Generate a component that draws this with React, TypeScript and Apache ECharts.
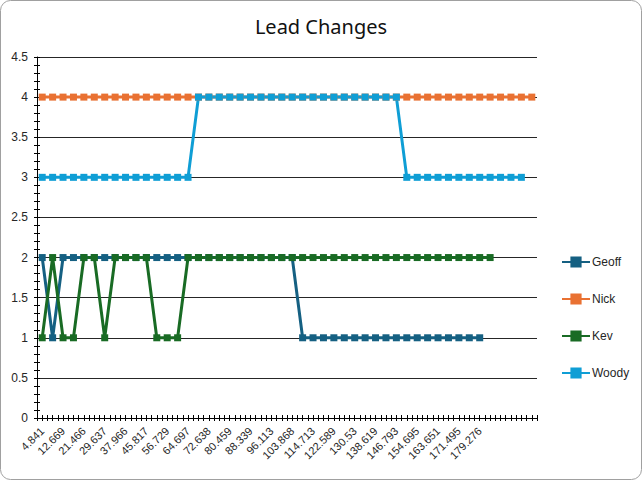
import { useEffect, useRef } from 'react';
import * as echarts from 'echarts';

// Category (time) labels that are printed on the axis (every other category)
const shownTimes = [
  '4.841', '12.669', '21.466', '29.637', '37.966', '45.817', '56.729', '64.697',
  '72.638', '80.459', '88.339', '96.113', '103.868', '114.713', '122.589', '130.53',
  '138.619', '146.793', '154.695', '163.651', '171.495', '179.276',
];
// Categories between printed labels (not visible in the picture, estimated)
const hiddenTimes = [
  '8.752', '17.102', '25.531', '33.804', '41.893', '51.270', '60.713', '68.664',
  '76.551', '84.402', '92.230', '99.990', '109.291', '118.650', '126.560', '134.577',
  '142.706', '150.744', '159.173', '167.573', '175.386',
];
const trailingBlank = ['', '', '', '', ''];

const geoff = [
  2, 1, 2, 2, 2, 2, 2, 2, 2, 2, 2, 2, 2, 2, 2, 2, 2, 2, 2, 2, 2, 2, 2, 2, 2,
  1, 1, 1, 1, 1, 1, 1, 1, 1, 1, 1, 1, 1, 1, 1, 1, 1, 1,
];
const nick = [
  4, 4, 4, 4, 4, 4, 4, 4, 4, 4, 4, 4, 4, 4, 4, 4, 4, 4, 4, 4, 4, 4, 4, 4,
  4, 4, 4, 4, 4, 4, 4, 4, 4, 4, 4, 4, 4, 4, 4, 4, 4, 4, 4, 4, 4, 4, 4, 4,
];
const kev = [
  1, 2, 1, 1, 2, 2, 1, 2, 2, 2, 2, 1, 1, 1, 2,
  2, 2, 2, 2, 2, 2, 2, 2, 2, 2, 2, 2, 2, 2, 2, 2, 2, 2, 2, 2, 2, 2, 2, 2, 2, 2, 2, 2, 2,
];
const woody = [
  3, 3, 3, 3, 3, 3, 3, 3, 3, 3, 3, 3, 3, 3, 3,
  4, 4, 4, 4, 4, 4, 4, 4, 4, 4, 4, 4, 4, 4, 4, 4, 4, 4, 4, 4,
  3, 3, 3, 3, 3, 3, 3, 3, 3, 3, 3, 3,
];

const seriesNames = ['Geoff', 'Nick', 'Kev', 'Woody'];
const seriesColors = ['#156082', '#E97132', '#196B24', '#0F9ED5'];

const categories: string[] = [];
shownTimes.forEach((t, i) => {
  categories.push(t);
  if (i < hiddenTimes.length) categories.push(hiddenTimes[i]);
});
trailingBlank.forEach((t) => categories.push(t));
// half-category helper axis for the minor ticks
const halfCats = Array.from({ length: categories.length * 2 }, (_, i) => 'h' + i);

export default function App() {
  const ref = useRef<HTMLDivElement>(null);
  useEffect(() => {
    if (!ref.current) return;
    const chart = echarts.init(ref.current, undefined, { renderer: 'svg' });
    const font = 'Liberation Sans';
    const tickAxis = (inside: boolean) => ({
      type: 'category',
      data: halfCats,
      position: 'bottom',
      boundaryGap: true,
      axisLine: { show: false },
      axisLabel: { show: false },
      splitLine: { show: false },
      axisTick: { show: true, interval: 0, inside, length: 3, lineStyle: { color: '#000', width: 1 } },
    });
    const dataSets = [geoff, nick, kev, woody];
    chart.setOption({
      animation: false,
      backgroundColor: '#ffffff',
      title: {
        text: 'Lead Changes',
        left: 'center',
        top: 11,
        textStyle: { fontFamily: 'Noto Sans', fontSize: 20, fontWeight: 'normal', color: '#111' },
      },
      graphic: [
        {
          type: 'rect',
          shape: { x: 0.5, y: 0.5, width: 641, height: 479, r: 10 },
          style: { fill: 'none', stroke: '#a0a0a0', lineWidth: 1 },
          silent: true,
          z: -1,
        },
      ],
      legend: {
        orient: 'vertical',
        left: 556,
        top: 251,
        itemGap: 25,
        itemWidth: 28,
        itemHeight: 14,
        data: seriesNames,
        textStyle: { fontFamily: font, fontSize: 12, color: '#262626', padding: [0, 0, 0, -3] },
      },
      grid: { left: 37, right: 105, top: 57, bottom: 62, containLabel: false },
      xAxis: [
        {
          type: 'category',
          data: categories,
          boundaryGap: true,
          axisLine: { show: true, lineStyle: { color: '#000', width: 1 } },
          axisTick: { show: false },
          axisLabel: {
            interval: 1,
            rotate: 45,
            margin: 11,
            fontFamily: font,
            fontSize: 11,
            color: '#262626',
          },
          splitLine: { show: false },
        },
        tickAxis(false),
        tickAxis(true),
      ],
      yAxis: [
        {
          type: 'value',
          min: 0,
          max: 4.5,
          interval: 0.5,
          position: 'left',
          axisLine: { show: true, lineStyle: { color: '#000', width: 1 } },
          axisTick: { show: true, length: 3, lineStyle: { color: '#000' } },
          minorTick: { show: true, splitNumber: 5, length: 3, lineStyle: { color: '#000' } },
          axisLabel: { margin: 9, fontFamily: font, fontSize: 12, color: '#262626' },
          splitLine: { show: true, lineStyle: { color: '#262626', width: 1 } },
        },
        {
          type: 'value',
          min: 0,
          max: 4.5,
          interval: 0.5,
          position: 'left',
          axisLine: { show: false },
          axisTick: { show: true, inside: true, length: 3, lineStyle: { color: '#000' } },
          minorTick: { show: true, splitNumber: 5, length: 3, lineStyle: { color: '#000' } },
          axisLabel: { show: false },
          splitLine: { show: false },
        },
      ],
      series: seriesNames.map((name, i) => ({
        name,
        type: 'line',
        xAxisIndex: 0,
        yAxisIndex: 0,
        data: dataSets[i],
        symbol: 'rect',
        symbolSize: 7,
        showAllSymbol: true,
        color: seriesColors[i],
        lineStyle: { width: 3, color: seriesColors[i] },
        itemStyle: { color: seriesColors[i], borderWidth: 0 },
        emphasis: { disabled: true },
      })),
    });
    return () => chart.dispose();
  }, []);
  return (
    <div
      ref={ref}
      style={{ position: 'fixed', left: 0, top: 0, width: 642, height: 480, background: '#fff' }}
    />
  );
}
